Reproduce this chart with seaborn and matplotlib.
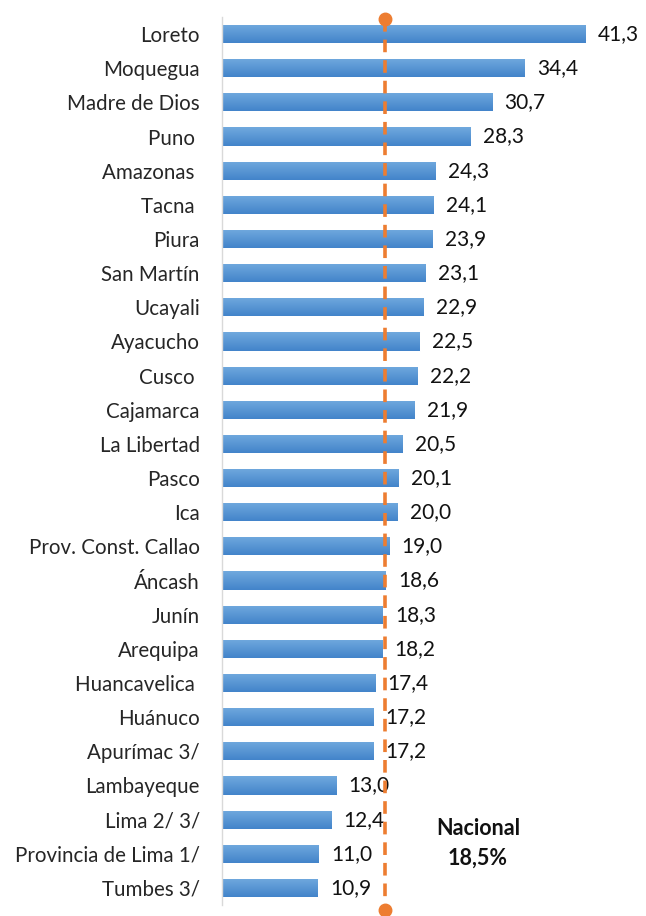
import matplotlib
matplotlib.use("Agg")
import matplotlib.pyplot as plt
import numpy as np
import pandas as pd
import seaborn as sns
from matplotlib.colors import LinearSegmentedColormap

regions = [
    "Loreto", "Moquegua", "Madre de Dios", "Puno ", "Amazonas ", "Tacna ",
    "Piura", "San Martín", "Ucayali", "Ayacucho", "Cusco ", "Cajamarca",
    "La Libertad", "Pasco", "Ica", "Prov. Const. Callao", "Áncash", "Junín",
    "Arequipa", "Huancavelica ", "Huánuco", "Apurímac 3/", "Lambayeque",
    "Lima 2/ 3/", "Provincia de Lima 1/", "Tumbes 3/",
]
values = [
    41.3, 34.4, 30.7, 28.3, 24.3, 24.1, 23.9, 23.1, 22.9, 22.5, 22.2, 21.9,
    20.5, 20.1, 20.0, 19.0, 18.6, 18.3, 18.2, 17.4, 17.2, 17.2, 13.0, 12.4,
    11.0, 10.9,
]
nacional = 18.5

df = pd.DataFrame({"region": regions, "valor": values})

sns.set_style("white")
plt.rcParams["font.family"] = ["Lato", "DejaVu Sans"]

fig = plt.figure(figsize=(6.46, 9.16), dpi=100)
ax = fig.add_axes([222 / 646, 1 - 905 / 916, 1 - 222 / 646, (905 - 17) / 916])

sns.barplot(data=df, x="valor", y="region", orient="h", color="#5B9BD5",
            saturation=1, width=0.53, ax=ax)

# degradado vertical dentro de cada barra
grad = LinearSegmentedColormap.from_list("azul", ["#70A9DE", "#4384CA"])
for bar in ax.patches:
    x0, y0 = bar.get_x(), bar.get_y()
    w, h = bar.get_width(), bar.get_height()
    im = ax.imshow(np.linspace(0, 1, 32).reshape(-1, 1), cmap=grad,
                   aspect="auto", extent=[x0, x0 + w, y0 + h, y0],
                   origin="upper", zorder=bar.get_zorder() + 0.1)
    im.set_clip_path(bar)

for i, v in enumerate(values):
    ax.text(v + 1.4, i, f"{v:.1f}".replace(".", ","), va="center", ha="left",
            fontsize=15, color="#111111")

# linea del promedio nacional
ax.plot([nacional, nacional], [-0.45, 25.65], color="#ED7D31", lw=2.6,
        ls=(0, (3.5, 2.2)), clip_on=False, zorder=5)
ax.plot([nacional, nacional], [-0.45, 25.65], color="#ED7D31", lw=0,
        marker="o", markersize=9, clip_on=False, zorder=6)
ax.text(29.1, 23.7, "Nacional\n18,5%", ha="center", va="center",
        fontsize=15.5, fontweight="bold", linespacing=1.5, color="#111111")

ax.set_xlim(0, 48.2)
ax.set_ylim(25.5, -0.5)
ax.set_xlabel("")
ax.set_ylabel("")
ax.set_xticks([])
ax.tick_params(axis="y", length=0, pad=16, labelsize=14.8)
for side in ["top", "right", "bottom"]:
    ax.spines[side].set_visible(False)
ax.spines["left"].set_color("#D9D9D9")
ax.spines["left"].set_linewidth(1)

fig.savefig("out.png", dpi=100)
